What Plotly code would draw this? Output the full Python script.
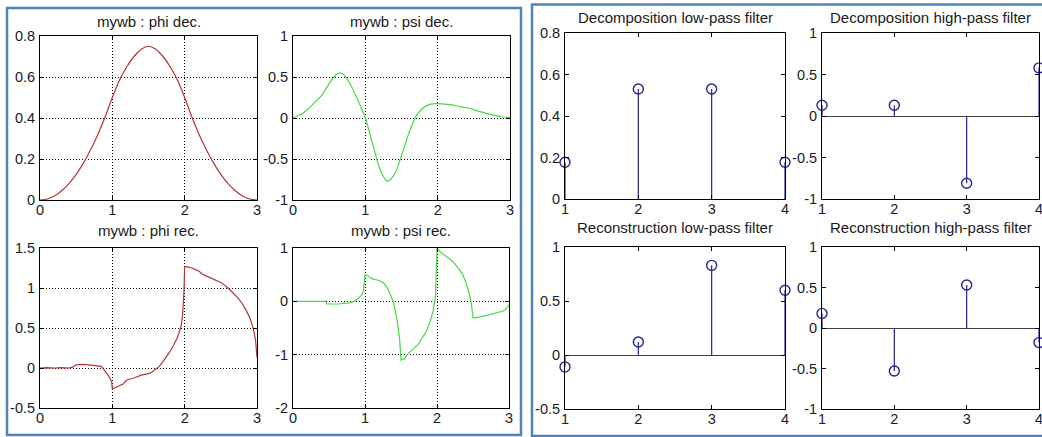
import plotly.graph_objects as go

W, H = 1042, 437

# ---------------- data ----------------
phi_dec_x = [0, 0.1, 0.2, 0.3, 0.4, 0.5, 0.6, 0.7, 0.8, 0.9, 1.0, 1.1, 1.2, 1.3, 1.4, 1.5,
             1.6, 1.7, 1.8, 1.9, 2.0, 2.1, 2.2, 2.3, 2.4, 2.5, 2.6, 2.7, 2.8, 2.9, 3.0]
phi_dec_y = [0, 0.005, 0.02, 0.045, 0.08, 0.125, 0.18, 0.245, 0.32, 0.405, 0.5, 0.585, 0.65, 0.7,
             0.735, 0.75, 0.735, 0.7, 0.65, 0.585, 0.5, 0.405, 0.32, 0.245, 0.18, 0.125, 0.08,
             0.045, 0.02, 0.005, 0]

psi_dec_x = [0, 0.1, 0.2, 0.3, 0.4, 0.5, 0.6, 0.65, 0.7, 0.8, 0.9, 1.0, 1.1, 1.2, 1.3, 1.4, 1.5,
             1.6, 1.7, 1.8, 1.9, 2.0, 2.1, 2.2, 2.3, 2.4, 2.5, 2.6, 2.7, 2.8, 2.9, 3.0]
psi_dec_y = [0, 0.04, 0.10, 0.19, 0.28, 0.42, 0.53, 0.55, 0.53, 0.40, 0.21, 0.0, -0.31, -0.62,
             -0.77, -0.69, -0.46, -0.19, 0.02, 0.125, 0.17, 0.175, 0.17, 0.16, 0.14, 0.125, 0.10,
             0.075, 0.05, 0.03, 0.012, 0.005]

phi_rec_x = [0, 0.1, 0.2, 0.3, 0.4, 0.45, 0.5, 0.6, 0.7, 0.8, 0.85, 0.9, 0.95, 0.99, 1.0, 1.05,
             1.1, 1.15, 1.2, 1.25, 1.3, 1.4, 1.5, 1.55, 1.6, 1.65, 1.7, 1.75, 1.8, 1.85, 1.9,
             1.95, 1.97, 1.99, 2.0, 2.05, 2.1, 2.15, 2.2, 2.25, 2.3, 2.4, 2.5, 2.6, 2.65, 2.7,
             2.75, 2.8, 2.85, 2.9, 2.95, 2.98, 3.0]
phi_rec_y = [0, 0.005, 0.0, 0.005, 0.0, 0.01, 0.04, 0.045, 0.035, 0.03, 0.02, -0.04, -0.1,
             -0.17, -0.26, -0.24, -0.22, -0.2, -0.15, -0.14, -0.125, -0.09, -0.07, -0.05, -0.02,
             0.02, 0.08, 0.14, 0.21, 0.29, 0.38, 0.52, 0.65, 0.95, 1.27, 1.26, 1.25, 1.23, 1.21,
             1.17, 1.15, 1.12, 1.07, 1.0, 0.96, 0.91, 0.86, 0.8, 0.72, 0.63, 0.49, 0.35, 0.13]

psi_rec_x = [0, 0.1, 0.2, 0.3, 0.4, 0.45, 0.47, 0.55, 0.6, 0.65, 0.7, 0.75, 0.8, 0.85, 0.9,
             0.95, 0.98, 1.0, 1.05, 1.1, 1.15, 1.2, 1.25, 1.3, 1.35, 1.4, 1.45, 1.48, 1.5, 1.55,
             1.6, 1.65, 1.7, 1.75, 1.8, 1.85, 1.9, 1.95, 1.98, 2.0, 2.05, 2.1, 2.2, 2.25, 2.3,
             2.35, 2.4, 2.45, 2.48, 2.5, 2.6, 2.7, 2.8, 2.9, 2.95, 3.0]
psi_rec_y = [0, 0, 0, 0, 0, 0.0, -0.05, -0.05, -0.04, -0.05, -0.03, -0.04, -0.02, 0.0, 0.05,
             0.11, 0.2, 0.5, 0.47, 0.42, 0.41, 0.39, 0.36, 0.27, 0.14, -0.04, -0.39, -0.7, -1.1,
             -1.07, -0.98, -0.92, -0.85, -0.79, -0.67, -0.57, -0.39, -0.17, 0.11, 1.0, 0.92,
             0.87, 0.77, 0.7, 0.61, 0.52, 0.36, 0.14, -0.07, -0.31, -0.29, -0.26, -0.23, -0.19,
             -0.16, -0.06]

filt_idx = [1, 2, 3, 4]
lo_d = [0.177, 0.530, 0.530, 0.177]
hi_d = [0.13, 0.13, -0.81, 0.58]
lo_r = [-0.11, 0.12, 0.83, 0.60]
hi_r = [0.18, -0.53, 0.53, -0.18]

titles = ["mywb : phi dec.", "mywb : psi dec.", "mywb : phi rec.", "mywb : psi rec.",
          "Decomposition low-pass filter", "Decomposition high-pass filter",
          "Reconstruction low-pass filter", "Reconstruction high-pass filter"]

xt_left = [0, 1, 2, 3]
xt_right = [1, 2, 3, 4]
yticks = [
    ([0, 0.2, 0.4, 0.6, 0.8], ["0", "0.2", "0.4", "0.6", "0.8"]),
    ([-1, -0.5, 0, 0.5, 1], ["-1", "-0.5", "0", "0.5", "1"]),
    ([-0.5, 0, 0.5, 1, 1.5], ["-0.5", "0", "0.5", "1", "1.5"]),
    ([-2, -1, 0, 1], ["-2", "-1", "0", "1"]),
    ([0, 0.2, 0.4, 0.6, 0.8], ["0", "0.2", "0.4", "0.6", "0.8"]),
    ([-1, -0.5, 0, 0.5, 1], ["-1", "-0.5", "0", "0.5", "1"]),
    ([-0.5, 0, 0.5, 1], ["-0.5", "0", "0.5", "1"]),
    ([-1, -0.5, 0, 0.5, 1], ["-1", "-0.5", "0", "0.5", "1"]),
]

# ---------------- layout geometry (pixels) ----------------
boxes = {
    1: (40, 257, 36, 200), 2: (293, 510, 36, 200),
    3: (40, 257, 248, 408), 4: (293, 509, 248, 408),
    5: (565, 785, 33, 199), 6: (822, 1039, 33, 199),
    7: (565, 785, 247, 409), 8: (822, 1039, 247, 409),
}
title_y = {1: 22, 2: 22, 3: 231, 4: 231, 5: 18, 6: 18, 7: 227, 8: 227}

FONT = "Liberation Sans, Arial, Helvetica, sans-serif"
PHI_C = "#b23535"
PSI_C = "#45d845"
STEM_C = "#25258f"
TXT_C = "#1a1a1a"

fig = go.Figure()


def ax(k):
    return ("x" if k == 1 else f"x{k}"), ("y" if k == 1 else f"y{k}")


curves = {1: (phi_dec_x, phi_dec_y, PHI_C, "spline"), 2: (psi_dec_x, psi_dec_y, PSI_C, "spline"),
          3: (phi_rec_x, phi_rec_y, PHI_C, "linear"), 4: (psi_rec_x, psi_rec_y, PSI_C, "linear")}
for k, (xs, ys, c, shp) in curves.items():
    xa, ya = ax(k)
    fig.add_trace(go.Scatter(x=xs, y=ys, mode="lines",
                             line=dict(color=c, width=1.2, shape=shp, smoothing=0.8),
                             xaxis=xa, yaxis=ya, showlegend=False, hoverinfo="skip"))

stems = {5: lo_d, 6: hi_d, 7: lo_r, 8: hi_r}
for k, vals in stems.items():
    xa, ya = ax(k)
    sx, sy = [], []
    for i, v in zip(filt_idx, vals):
        sx += [i, i, None]
        sy += [0, v, None]
    fig.add_trace(go.Scatter(x=sx, y=sy, mode="lines", line=dict(color=STEM_C, width=1.2),
                             xaxis=xa, yaxis=ya, showlegend=False, hoverinfo="skip",
                             cliponaxis=False))
    fig.add_trace(go.Scatter(x=filt_idx, y=vals, mode="markers",
                             marker=dict(symbol="circle-open", size=10,
                                         color=STEM_C, line=dict(width=1.4, color=STEM_C)),
                             xaxis=xa, yaxis=ya, showlegend=False, cliponaxis=False))

layout = dict(width=W, height=H, margin=dict(l=0, r=0, t=0, b=0, pad=0), autosize=False,
              paper_bgcolor="white", plot_bgcolor="white", showlegend=False,
              font=dict(family=FONT, size=14, color=TXT_C))

annotations = []
for k, (x0, x1, y0, y1) in boxes.items():
    left = k <= 4
    xkey = "xaxis" if k == 1 else f"xaxis{k}"
    ykey = "yaxis" if k == 1 else f"yaxis{k}"
    xa, ya = ax(k)
    common = dict(showline=True, linecolor="black", linewidth=1, mirror="ticks",
                  ticks="inside", ticklen=4, tickcolor="black", tickwidth=1,
                  tickfont=dict(family=FONT, size=14.5, color=TXT_C),
                  ticklabeloverflow="allow", fixedrange=True, automargin=False)
    grid = dict(showgrid=True, gridcolor="black", griddash="1px,2px", gridwidth=1) if left \
        else dict(showgrid=False)
    xt = xt_left if left else xt_right
    layout[xkey] = dict(domain=[x0 / W, x1 / W], anchor=ya, range=[xt[0], xt[-1]],
                        tickvals=xt, ticktext=[str(v) for v in xt], zeroline=False,
                        ticklabelstandoff=-3, **grid, **common)
    tv, tt = yticks[k - 1]
    layout[ykey] = dict(domain=[1 - y1 / H, 1 - y0 / H], anchor=xa, range=[tv[0], tv[-1]],
                        tickvals=tv, ticktext=tt, ticklabelstandoff=1,
                        zeroline=not left, zerolinecolor="#404040", zerolinewidth=1,
                        **grid, **common)
    annotations.append(dict(text=titles[k - 1], xref="paper", yref="paper",
                            x=(x0 + x1) / 2 / W, y=1 - title_y[k] / H,
                            xanchor="center", yanchor="middle", showarrow=False,
                            font=dict(family=FONT, size=15, color=TXT_C)))

layout["annotations"] = annotations
layout["shapes"] = [
    dict(type="rect", xref="paper", yref="paper", x0=7 / W, x1=521 / W,
         y0=1 - 435 / H, y1=1 - 8 / H, line=dict(color="#4f81bd", width=2.5)),
    dict(type="rect", xref="paper", yref="paper", x0=532 / W, x1=1060 / W,
         y0=1 - 436 / H, y1=1 - 4.5 / H, line=dict(color="#4f81bd", width=2.5)),
]
fig.update_layout(**layout)

reset_page = ("document.documentElement.style.margin='0';"
              "document.documentElement.style.overflow='hidden';"
              "document.body.style.margin='0';document.body.style.padding='0';"
              "document.body.style.overflow='hidden';")
fig.write_html("out.html", post_script=reset_page,
               config={"displayModeBar": False, "staticPlot": True})
